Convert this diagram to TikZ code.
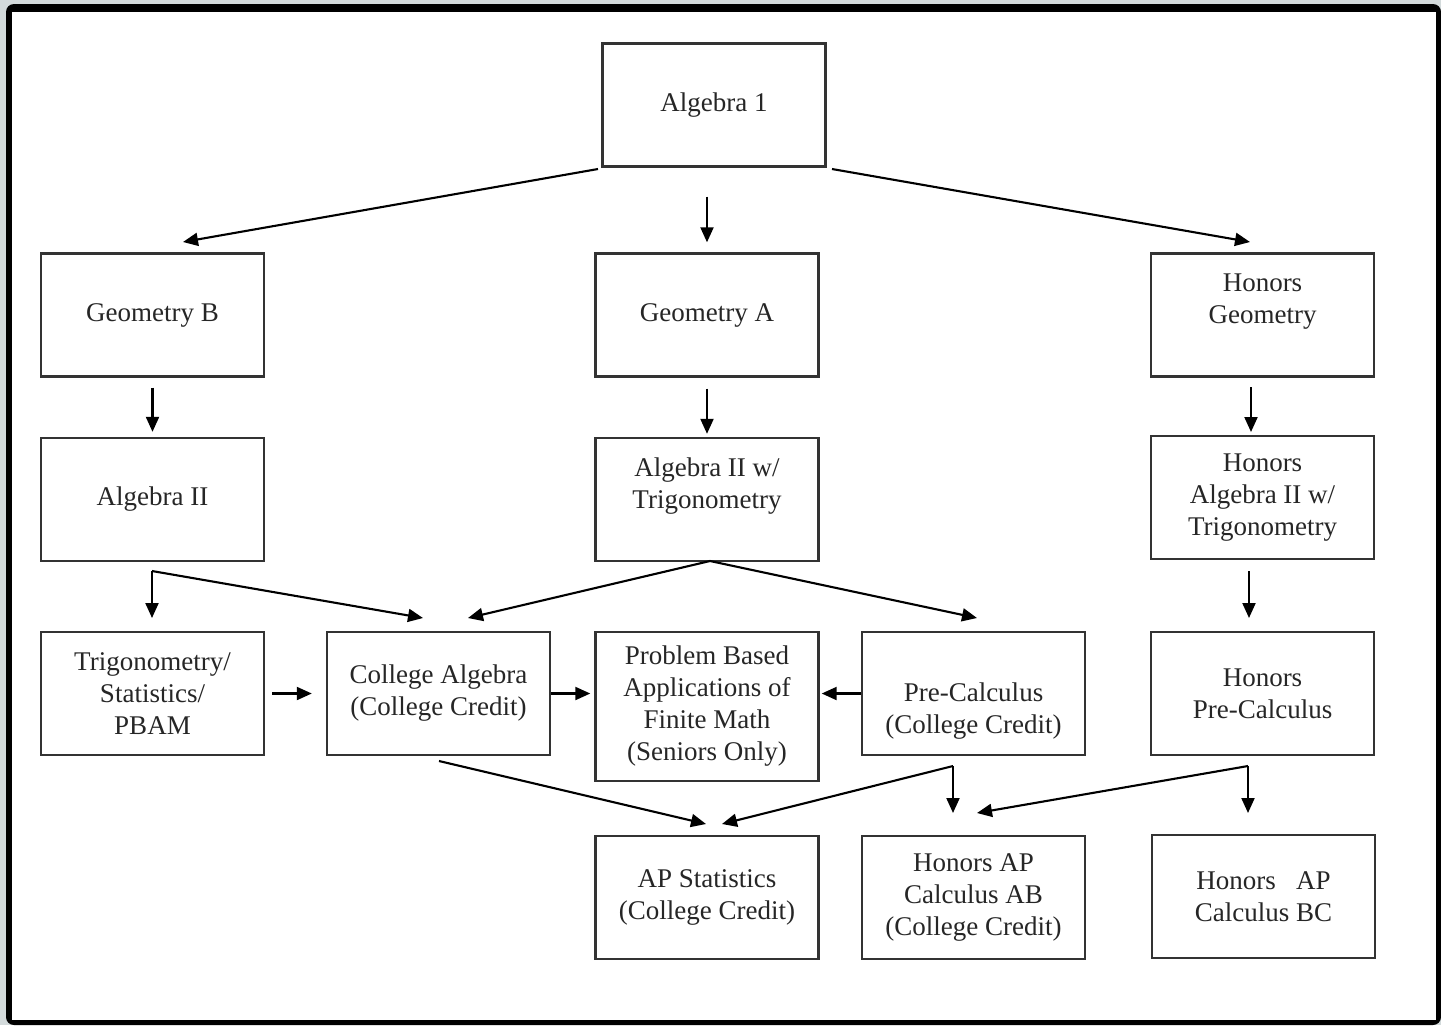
\documentclass[tikz,border=0pt]{standalone}
\usepackage{fontspec}
\setmainfont{Liberation Serif}
\usetikzlibrary{arrows.meta}
\definecolor{rim}{HTML}{D3DADB}
\begin{document}
\begin{tikzpicture}[x=0.5pt, y=-0.5pt, font=\fontsize{13.5}{16}\selectfont, >={Triangle[length=7.5pt,width=6.5pt]},
	box/.style={draw=black!80, line width=1.2pt, minimum width=111.5pt, minimum height=61.5pt, align=center, inner sep=0pt, text=black!85},
	arr/.style={->, line width=1.05pt}]
	\useasboundingbox (0,0) rectangle (1441,1025);
	\fill[rim] (0,0) rectangle (1441,1025);
	\fill[black, rounded corners=4pt] (6,4) rectangle (1441,1025);
	\fill[white] (12,12) rectangle (1436,1020);
	% courses
	\node[box] (A1) at (714,105) {Algebra 1};
	\node[box] (GB) at (152.5,315) {Geometry B};
	\node[box] (GA) at (707,315) {Geometry A};
	\node[box] (HG) at (1262.5,315) {Honors\\Geometry\\\mbox{}};
	\node[box] (A2) at (152.5,499.5) {Algebra II};
	\node[box] (AT) at (707,499.5) {Algebra II w/\\Trigonometry\\\mbox{}};
	\node[box] (HT) at (1262.5,497.5) {Honors\\Algebra II w/\\Trigonometry};
	\node[box] (TS) at (152.5,693.5) {Trigonometry/\\Statistics/\\PBAM};
	\node[box] (CA) at (438.5,693.5) {College Algebra\\(College Credit)};
	\node[box, minimum height=74.5pt] (PB) at (707,706.5) {Problem Based\\Applications of\\Finite Math\\(Seniors Only)};
	\node[box] (PC) at (973.5,693.5) {\strut\\Pre-Calculus\\(College Credit)};
	\node[box] (HP) at (1262.5,693.5) {Honors\\Pre-Calculus};
	\node[box] (AS) at (707,897.5) {AP Statistics\\(College Credit)};
	\node[box] (AB) at (973.5,897.5) {Honors AP\\Calculus AB\\(College Credit)};
	\node[box] (BC) at (1263.5,896.5) {Honors\ \ \ AP\\Calculus BC};
	% free ends of the arrows
	\path (598,169) coordinate (A1l) (183,242) coordinate (GBt)
		(832,169) coordinate (A1r) (1250,242) coordinate (HGt)
		(1251,387) coordinate (HGb) (1251,432) coordinate (HTt)
		(152,571) coordinate (A2b) (152,618) coordinate (TSt) (423,618) coordinate (CAt)
		(710,561) coordinate (ATb) (468,618) coordinate (CAr) (977,618) coordinate (PCt)
		(1249,571) coordinate (HTb) (1249,618) coordinate (HPt)
		(439,761) coordinate (CAb) (706,824) coordinate (ASl)
		(953,766) coordinate (PCb) (722,824) coordinate (ASr) (953,813) coordinate (ABt)
		(1248,766) coordinate (HPb) (977,813) coordinate (ABr) (1248,813) coordinate (BCt);
	\draw[arr, shorten <=14.5pt, shorten >=5pt] (A1.south -| GA.north) -- (GA.north);
	\draw[arr, shorten <=5pt, shorten >=2.5pt] (GB) -- (A2);
	\draw[arr, shorten <=5.5pt, shorten >=1.5pt] (GA) -- (AT);
	\draw[arr, shorten <=3.5pt, shorten >=7pt] (TS) -- (CA);
	\draw[arr, shorten >=2pt] (CA.east) -- (CA.east -| PB.west);
	\draw[arr, shorten >=1pt] (PC.west) -- (PC.west -| PB.east);
	\foreach \a/\b in {A1l/GBt, A1r/HGt, HGb/HTt, A2b/TSt, A2b/CAt, ATb/CAr, ATb/PCt,
		HTb/HPt, CAb/ASl, PCb/ASr, PCb/ABt, HPb/ABr, HPb/BCt}{
		\draw[arr] (\a) -- (\b);
	}
\end{tikzpicture}
\end{document}
